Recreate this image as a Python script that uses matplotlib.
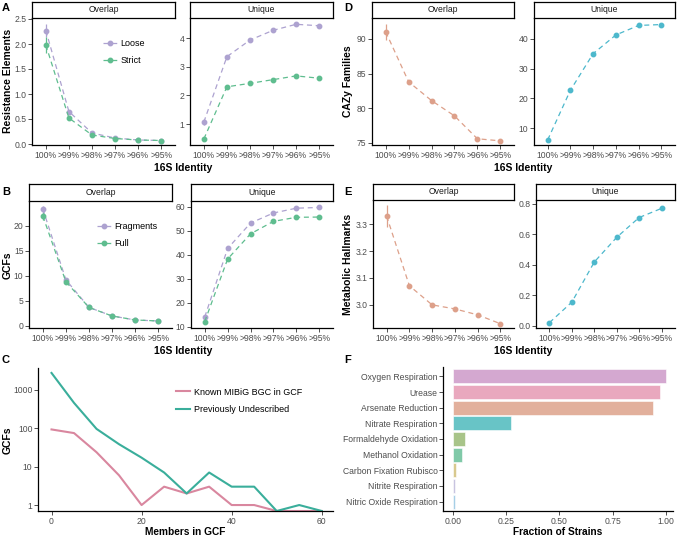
import numpy as np
import matplotlib
matplotlib.use('Agg')
import matplotlib.pyplot as plt

plt.rcParams['font.family'] = ['Liberation Sans', 'DejaVu Sans']

# Shared categories
identity = ['100%', '>99%', '>98%', '>97%', '>96%', '>95%']

# Panel A - resistance elements
res_overlap_loose = [2.27, 0.65, 0.22, 0.12, 0.08, 0.07]
res_overlap_strict = [1.98, 0.52, 0.18, 0.11, 0.08, 0.07]
res_overlap_loose_err = [0.13, 0.03, 0.02, 0.01, 0.01, 0.01]
res_overlap_strict_err = [0.16, 0.03, 0.02, 0.01, 0.01, 0.01]
res_unique_loose = [1.07, 3.35, 3.93, 4.27, 4.48, 4.43]
res_unique_strict = [0.48, 2.30, 2.42, 2.55, 2.68, 2.60]
res_unique_loose_err = [0.10, 0.04, 0.03, 0.02, 0.02, 0.02]
res_unique_strict_err = [0.05, 0.03, 0.02, 0.02, 0.02, 0.02]

# Panel B - GCFs
gcf_overlap_frag = [23.3, 9.2, 3.7, 2.0, 1.2, 1.0]
gcf_overlap_full = [21.9, 8.8, 3.7, 2.0, 1.2, 1.0]
gcf_overlap_frag_err = [0.7, 0.3, 0.1, 0.1, 0.05, 0.05]
gcf_overlap_full_err = [0.8, 0.3, 0.1, 0.1, 0.05, 0.05]
gcf_unique_frag = [14.1, 42.7, 53.3, 57.5, 59.5, 59.8]
gcf_unique_full = [12.2, 38.3, 48.8, 54.0, 55.7, 55.8]
gcf_unique_frag_err = [0.8, 0.4, 0.3, 0.2, 0.2, 0.2]
gcf_unique_full_err = [0.8, 0.4, 0.3, 0.2, 0.2, 0.2]

# Panel C - GCF size distribution (0 = none, drawn on the lower panel edge)
members = [0, 5, 10, 15, 20, 25, 30, 35, 40, 45, 50, 55, 60]
known_mibig = [92, 74, 23.5, 5.9, 1, 3, 2, 3, 1, 1, 0, 0, 0]
undescribed = [2700, 450, 95, 38, 17, 7, 2, 7, 3, 3, 0, 1, 0]

# Panel D - CAZy families
cazy_overlap = [91.0, 83.8, 81.1, 78.9, 75.6, 75.3]
cazy_overlap_err = [1.2, 0.3, 0.2, 0.15, 0.1, 0.1]
cazy_unique = [6.0, 22.7, 35.0, 41.3, 44.5, 44.8]
cazy_unique_err = [0.4, 0.5, 0.4, 0.3, 0.3, 0.3]

# Panel E - metabolic hallmarks
hall_overlap = [3.33, 3.071, 3.00, 2.985, 2.963, 2.93]
hall_overlap_err = [0.04, 0.008, 0.004, 0.003, 0.003, 0.003]
hall_unique = [0.02, 0.155, 0.418, 0.58, 0.71, 0.77]
hall_unique_err = [0.005, 0.006, 0.006, 0.005, 0.005, 0.005]

# Panel F - metabolic pathways
pathways = ['Oxygen Respiration', 'Urease', 'Arsenate Reduction', 'Nitrate Respiration',
            'Formaldehyde Oxidation', 'Methanol Oxidation', 'Carbon Fixation Rubisco',
            'Nitrite Respiration', 'Nitric Oxide Respiration']
fraction = [1.0, 0.97, 0.94, 0.27, 0.055, 0.04, 0.012, 0.009, 0.009]
pathway_colors = ['#D4A8D0', '#E9A8BE', '#E2B09C', '#68C4C6', '#A8C489',
                  '#80C9A8', '#D8C98E', '#C8C4E0', '#A6CFE6']

purple = '#ADA2D0'
green = '#5FBD8F'
salmon = '#DDA08A'
cyan = '#4DB8CC'
grey_txt = '#4D4D4D'

W, H = 678, 539
fig = plt.figure(figsize=(W / 100, H / 100), dpi=100)


def px_axes(x0, y0, x1, y1):
    # axes placed by pixel box (top-left origin)
    return fig.add_axes([x0 / W, 1 - y1 / H, (x1 - x0) / W, (y1 - y0) / H])


def px_text(x, y, s, **kw):
    kw.setdefault('fontsize', 7.5)
    kw.setdefault('fontweight', 'bold')
    fig.text(x / W, 1 - y / H, s, ha='center', va='center', **kw)


def style(ax):
    for s in ['top', 'right']:
        ax.spines[s].set_visible(False)
    for s in ['left', 'bottom']:
        ax.spines[s].set_linewidth(0.9)
        ax.spines[s].set_color('black')
    ax.tick_params(length=2.8, width=0.6, color='#333333', labelsize=6.2,
                   labelcolor=grey_txt, pad=1.2)


def strip(x0, x1, y0, y1, label):
    sa = px_axes(x0, y0, x1, y1)
    sa.set_xticks([])
    sa.set_yticks([])
    for s in sa.spines.values():
        s.set_linewidth(0.9)
    sa.text(0.5, 0.5, label, ha='center', va='center', fontsize=6.2,
            color='#1A1A1A', transform=sa.transAxes)


def facet(box, ylim, yticks, series, strip_box, label):
    ax = px_axes(*box)
    x = np.arange(1, len(identity) + 1)
    for vals, errs, col, name in series:
        ax.errorbar(x, vals, yerr=errs, color=col, ls=(0, (4, 3)), lw=0.9,
                    marker='o', ms=3.2, elinewidth=0.9, capsize=0, label=name)
    ax.set_xlim(0.4, 6.6)
    ax.set_ylim(*ylim)
    ax.set_yticks(yticks[0])
    ax.set_yticklabels(yticks[1])
    ax.set_xticks(x)
    ax.set_xticklabels(identity)
    style(ax)
    strip(box[0], box[2], strip_box[0], strip_box[1], label)
    return ax


def small_legend(ax, anchor, spacing=0.9):
    # legend keys: line + point only, no error bar
    handles, labels = ax.get_legend_handles_labels()
    handles = [h[0] for h in handles]
    ax.legend(handles, labels, loc='upper left', bbox_to_anchor=anchor, frameon=False,
              fontsize=6.5, handlelength=1.6, labelspacing=spacing, handletextpad=0.3)


# Panel A
a1 = facet((32, 18, 175, 145), (-0.02, 2.52),
           ([0, 0.5, 1, 1.5, 2, 2.5], ['0.0', '0.5', '1.0', '1.5', '2.0', '2.5']),
           [(res_overlap_loose, res_overlap_loose_err, purple, 'Loose'),
            (res_overlap_strict, res_overlap_strict_err, green, 'Strict')],
           (2, 18), 'Overlap')
small_legend(a1, (0.44, 0.9))
a2 = facet((190, 18, 333, 145), (0.27, 4.7), ([1, 2, 3, 4], ['1', '2', '3', '4']),
           [(res_unique_loose, res_unique_loose_err, purple, 'Loose'),
            (res_unique_strict, res_unique_strict_err, green, 'Strict')],
           (2, 18), 'Unique')
px_text(8, 81, 'Resistance Elements', rotation=90)
px_text(183, 168, '16S Identity')

# Panel B
b1 = facet((29, 201, 172, 328), (-0.4, 24.9),
           ([0, 5, 10, 15, 20], ['0', '5', '10', '15', '20']),
           [(gcf_overlap_frag, gcf_overlap_frag_err, purple, 'Fragments'),
            (gcf_overlap_full, gcf_overlap_full_err, green, 'Full')],
           (184, 201), 'Overlap')
small_legend(b1, (0.42, 0.9))
b2 = facet((191, 201, 333, 328), (9.5, 62.5),
           ([10, 20, 30, 40, 50, 60], ['10', '20', '30', '40', '50', '60']),
           [(gcf_unique_frag, gcf_unique_frag_err, purple, 'Fragments'),
            (gcf_unique_full, gcf_unique_full_err, green, 'Full')],
           (184, 201), 'Unique')
px_text(8, 265, 'GCFs', rotation=90)
px_text(183, 351, '16S Identity')

# Panel D
d1 = facet((372, 18, 514, 145), (74.7, 93.0),
           ([75, 80, 85, 90], ['75', '80', '85', '90']),
           [(cazy_overlap, cazy_overlap_err, salmon, 'Overlap')], (2, 18), 'Overlap')
d2 = facet((534, 18, 675, 145), (4.3, 47),
           ([10, 20, 30, 40], ['10', '20', '30', '40']),
           [(cazy_unique, cazy_unique_err, cyan, 'Unique')], (2, 18), 'Unique')
px_text(348, 81, 'CAZy Families', rotation=90)
px_text(523, 168, '16S Identity')

# Panel E
e1 = facet((373, 200, 514, 328), (2.914, 3.39),
           ([3.0, 3.1, 3.2, 3.3], ['3.0', '3.1', '3.2', '3.3']),
           [(hall_overlap, hall_overlap_err, salmon, 'Overlap')], (184, 200), 'Overlap')
e2 = facet((536, 200, 675, 328), (-0.015, 0.825),
           ([0, 0.2, 0.4, 0.6, 0.8], ['0.0', '0.2', '0.4', '0.6', '0.8']),
           [(hall_unique, hall_unique_err, cyan, 'Unique')], (184, 200), 'Unique')
px_text(348, 264, 'Metabolic Hallmarks', rotation=90)
px_text(523, 351, '16S Identity')

# Panel C - log scale line plot, zero counts sit on the panel floor like ggplot -Inf
c_ylim = (0.7, 3630)
c = px_axes(38, 368, 333, 511)
c.plot(members, np.where(np.array(known_mibig) > 0, known_mibig, c_ylim[0]),
       color='#D9879F', lw=1.5, label='Known MIBiG BGC in GCF')
c.plot(members, np.where(np.array(undescribed) > 0, undescribed, c_ylim[0]),
       color='#3AAE9B', lw=1.5, label='Previously Undescribed')
c.set_yscale('log')
c.set_ylim(*c_ylim)
c.set_xlim(-3, 62.5)
c.set_yticks([1, 10, 100, 1000])
c.set_yticklabels(['1', '10', '100', '1000'])
c.minorticks_off()
c.set_xticks([0, 20, 40, 60])
style(c)
c.legend(loc='upper left', bbox_to_anchor=(0.44, 0.92), frameon=False, fontsize=6.5,
         handlelength=1.6, labelspacing=0.9, handletextpad=0.4)
px_text(8, 440, 'GCFs', rotation=90)
px_text(185, 532, 'Members in GCF', fontsize=7.3)

# Panel F - horizontal bars
f = px_axes(443, 367, 673, 511)
ypos = np.arange(len(pathways))
f.barh(ypos, fraction, height=0.9, color=pathway_colors, edgecolor='white', linewidth=0.4)
f.set_ylim(len(pathways) - 0.4, -0.6)
f.set_xlim(-0.047, 1.033)
f.set_yticks(ypos)
f.set_yticklabels(pathways)
f.set_xticks([0, 0.25, 0.5, 0.75, 1.0])
f.set_xticklabels(['0.00', '0.25', '0.50', '0.75', '1.00'])
style(f)
px_text(558, 532, 'Fraction of Strains', fontsize=7.3)

# Panel letters
for lbl, xx, yy in [('A', 2, 8), ('B', 2, 192), ('C', 2, 360),
                    ('D', 344, 8), ('E', 344, 192), ('F', 344, 360)]:
    fig.text(xx / W, 1 - yy / H, lbl, ha='left', va='center', fontsize=8, fontweight='bold')

fig.savefig('out.png', dpi=100)
